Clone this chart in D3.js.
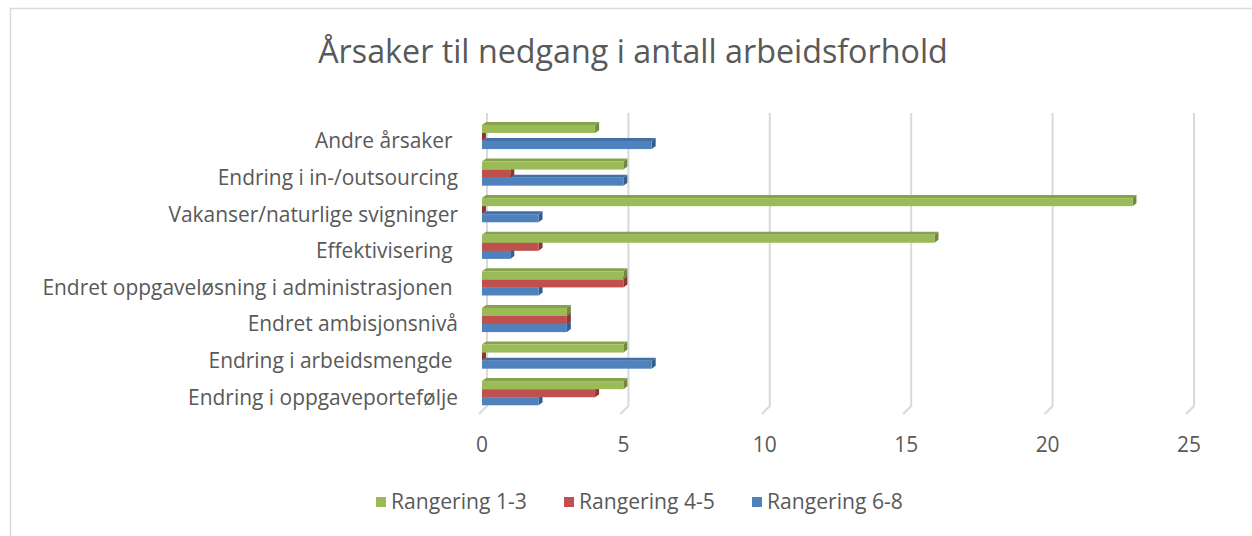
<!DOCTYPE html>
<html><head><meta charset="utf-8">
<script src="https://cdn.jsdelivr.net/npm/d3@7"></script>
<style>body{margin:0;background:#fff;} svg{display:block;} text{white-space:pre;}</style>
</head><body>
<svg id="chart" width="1252" height="536"></svg>
<script>
const title = "Årsaker til nedgang i antall arbeidsforhold";
const categories = ["Andre årsaker ", "Endring i in-/outsourcing", "Vakanser/naturlige svigninger", "Effektivisering ", "Endret oppgaveløsning i administrasjonen ", "Endret ambisjonsnivå", "Endring i arbeidsmengde ", "Endring i oppgaveportefølje"];
const seriesNames = ["Rangering 1-3", "Rangering 4-5", "Rangering 6-8"];
const rang13 = [4, 5, 23, 16, 5, 3, 5, 5];
const rang45 = [0, 1, 0, 2, 5, 3, 0, 4];
const rang68 = [6, 5, 2, 1, 2, 3, 6, 2];
const tickValues = [0, 5, 10, 15, 20, 25];
const colors = ["#9BBB59", "#C0504D", "#4F81BD"];
const sideColors = ["#6F8A3C", "#8E3533", "#355E8E"];
const topColors = ["#86A34B", "#A94542", "#426FA5"];

const seriesData = [rang13, rang45, rang68];
const FONT = "'Open Sans', 'Noto Sans', sans-serif";
const TXT = "#595959";
const svg = d3.select("#chart");

function fitSize(sel, base, target) {
  const len = sel.node().getComputedTextLength();
  return base * target / len;
}

// border
svg.append("rect").attr("x", 10.5).attr("y", 8.5).attr("width", 1300).attr("height", 600)
  .attr("fill", "none").attr("stroke", "#d9d9d9").attr("stroke-width", 1.5);

const x = d3.scaleLinear().domain([0, 25]).range([482, 1189]);
const y = d3.scaleBand().domain(categories).range([118.7, 411.5]).paddingInner(0.34).paddingOuter(0.17);
const ys = d3.scaleBand().domain(seriesNames).range([0, y.bandwidth()]);
const dx = 4, dy = -3;

// gridlines (back wall + floor)
const gTop = 113, gBot = 406;
const grid = svg.append("g");
tickValues.forEach(v => {
  grid.append("path")
    .attr("d", `M${x(v)+5},${gTop} L${x(v)+5},${gBot} L${x(v)-3},${gBot+8}`)
    .attr("fill", "none").attr("stroke", "#d9d9d9").attr("stroke-width", 2);
});

// bars
const bars = svg.append("g");
for (let s = seriesData.length - 1; s >= 0; s--) {
  categories.forEach((c, i) => {
    const v = seriesData[s][i];
    const x0 = x(0), x1 = x(v);
    const y0 = y(c) + ys(seriesNames[s]), h = ys.bandwidth();
    const g = bars.append("g");
    g.append("path").attr("d", `M${x0},${y0} L${x0+dx},${y0+dy} L${x1+dx},${y0+dy} L${x1},${y0} Z`).attr("fill", topColors[s]);
    g.append("path").attr("d", `M${x1},${y0} L${x1+dx},${y0+dy} L${x1+dx},${y0+h+dy} L${x1},${y0+h} Z`).attr("fill", sideColors[s]);
    g.append("rect").attr("x", x0).attr("y", y0).attr("width", x1 - x0).attr("height", h).attr("fill", colors[s]);
  });
}

// size probe for axis-label text
const probe = svg.append("text").attr("font-family", FONT).attr("font-size", 20).text("Endring i oppgaveportefølje");
const labSize = fitSize(probe, 20, 270);
probe.remove();

// category labels
const lab = svg.append("g").attr("font-family", FONT).attr("fill", TXT).attr("text-anchor", "end");
lab.selectAll("text").data(categories).join("text")
  .attr("x", 458).attr("y", d => y(d) + y.bandwidth()/2 + 4).attr("dy", "0.35em")
  .attr("font-size", labSize).text(d => d);

// tick labels
const tk = svg.append("g").attr("font-family", FONT).attr("fill", TXT).attr("text-anchor", "middle");
tk.selectAll("text").data(tickValues).join("text")
  .attr("x", d => x(d)).attr("y", 445).attr("dy", "0.35em").attr("font-size", labSize).text(d => d);

// title
const t = svg.append("text").attr("x", 633).attr("y", 52).attr("dy", "0.35em")
  .attr("text-anchor", "middle").attr("font-family", FONT).attr("fill", TXT)
  .attr("font-size", 32).text(title);
t.attr("font-size", fitSize(t, 32, 630));

// legend
const legX = [376, 564, 752];
const leg = svg.append("g").attr("font-family", FONT).attr("fill", TXT);
seriesNames.forEach((n, i) => {
  leg.append("rect").attr("x", legX[i]).attr("y", 497).attr("width", 10).attr("height", 10).attr("fill", colors[i]);
  const tt = leg.append("text").attr("x", legX[i] + 15).attr("y", 502).attr("dy", "0.35em").attr("font-size", 18).text(n);
  tt.attr("font-size", fitSize(tt, 18, 136));
});
</script>
</body></html>
